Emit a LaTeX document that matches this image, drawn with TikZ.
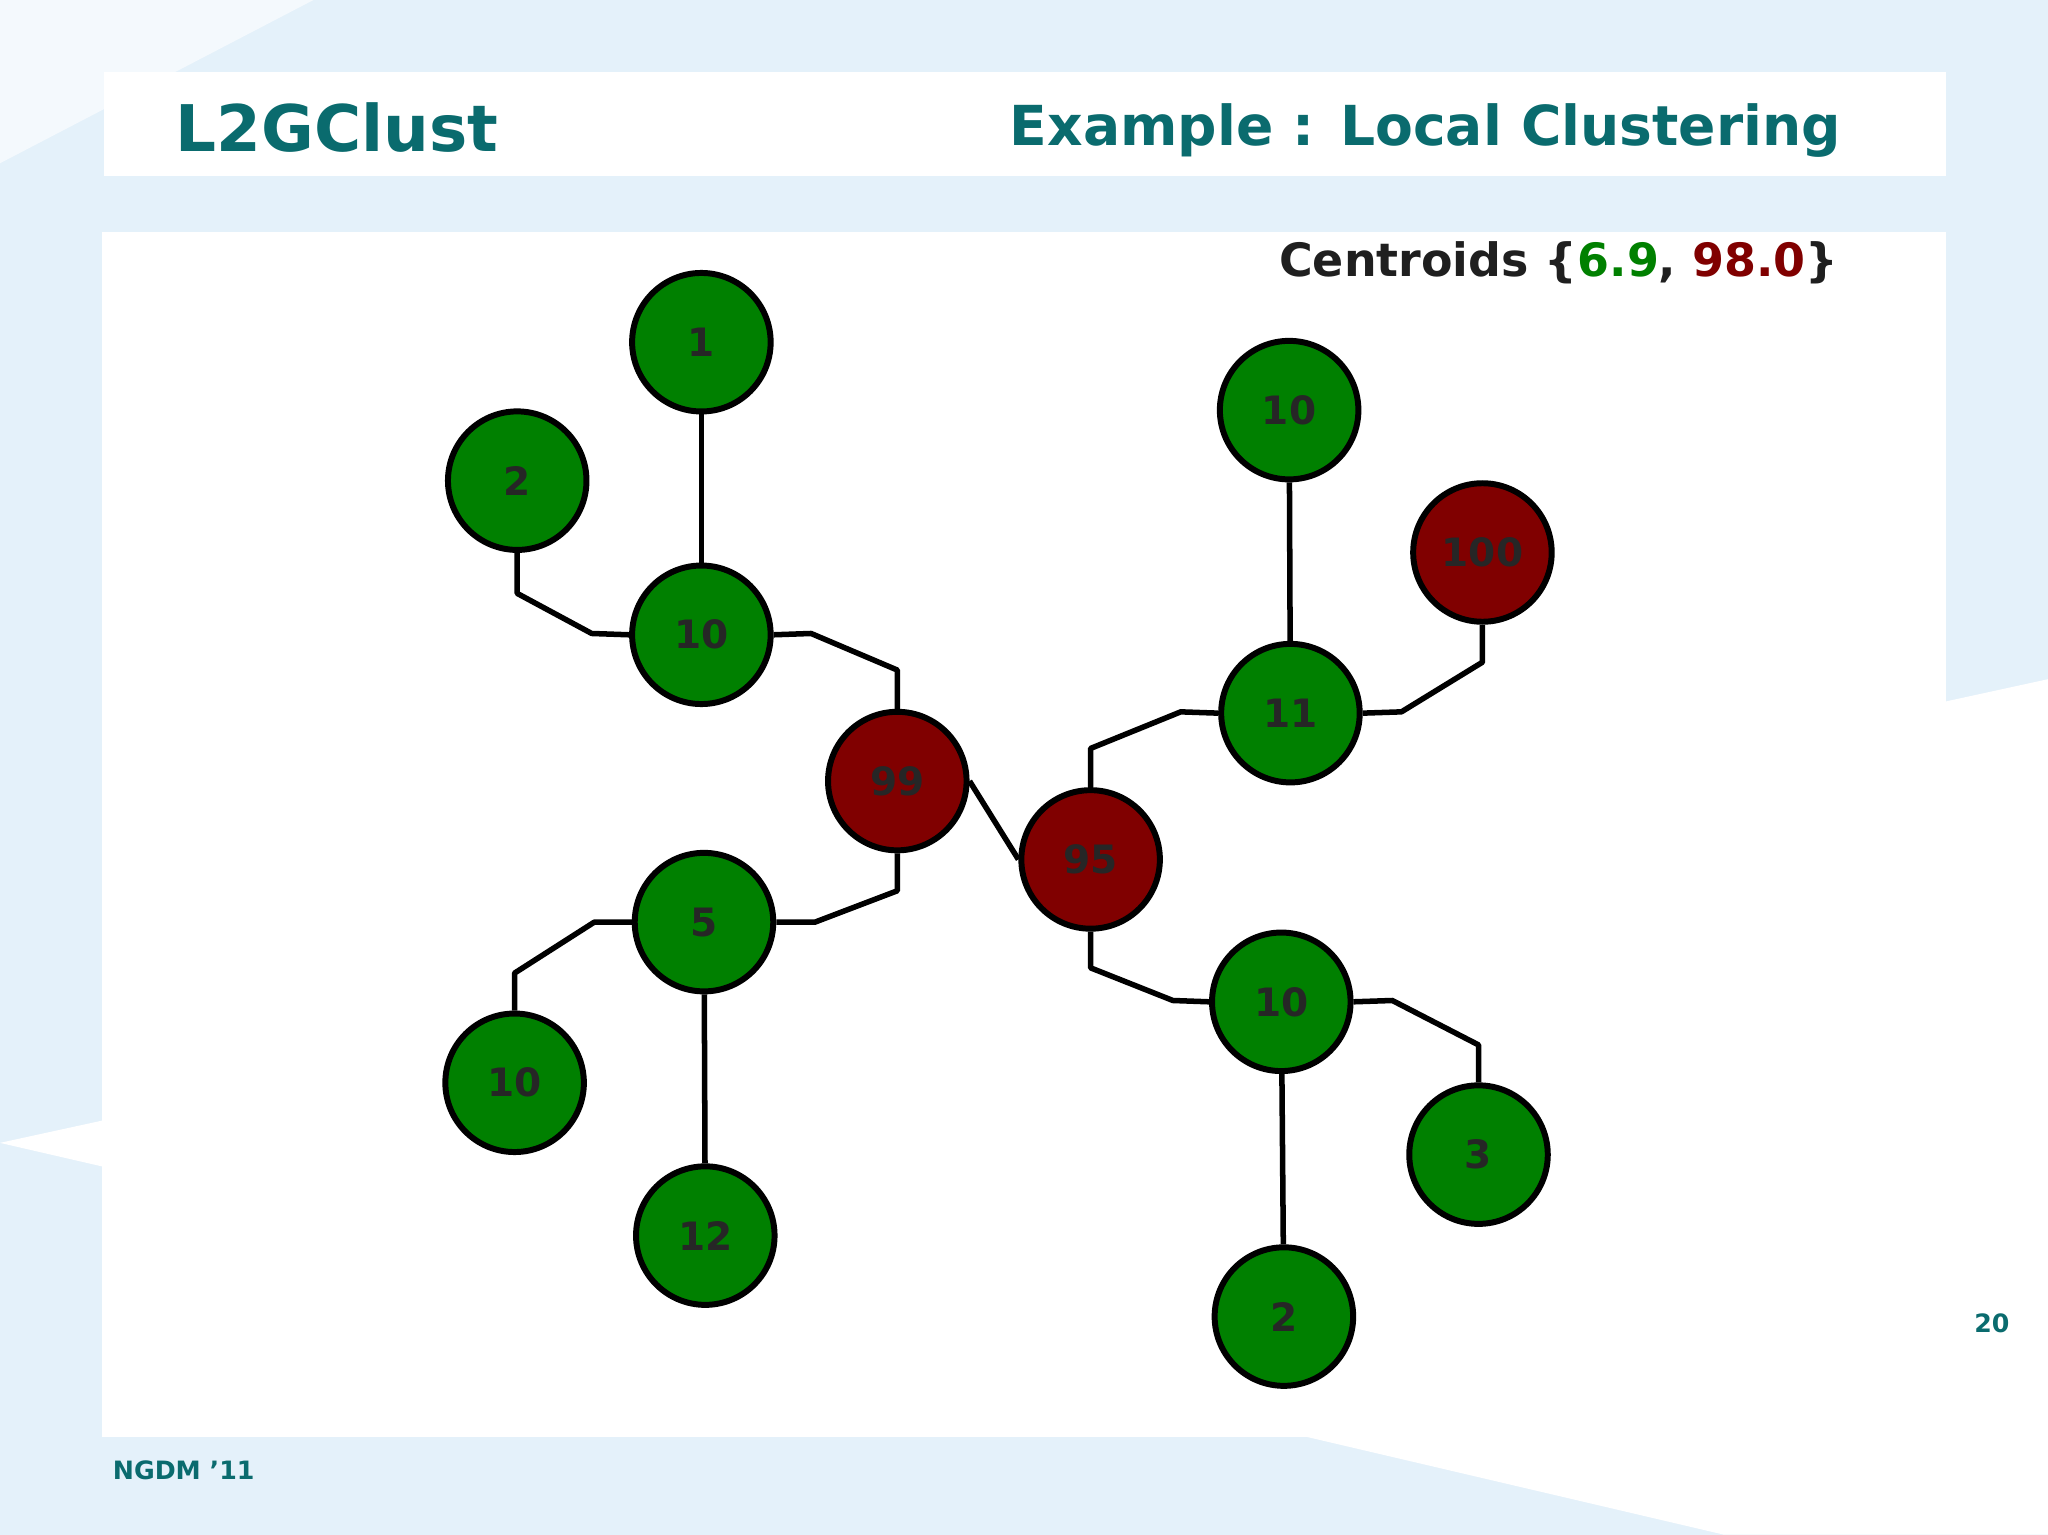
\documentclass[tikz,border=0pt]{standalone}
\usepackage{fontspec}
\setmainfont{DejaVu Sans}
\begin{document}
\begin{tikzpicture}[x=0.01cm,y=-0.01cm,
  nd/.style={circle,draw=black,line width=1.3pt,minimum size=1.06cm,inner sep=0pt,font=\fontsize{8.5}{10}\bfseries,text=black!85},
  gn/.style={nd,fill=green!50!black},
  rn/.style={nd,fill=red!50!black},
  ed/.style={line width=1.2pt,line join=round}]
\definecolor{bgb}{HTML}{E4F1FA}
\definecolor{teal2}{HTML}{0A6B6E}
\fill[bgb] (0,0) rectangle (1568,1175);
\fill[white!60!bgb] (0,125) -- (240,0) -- (0,0) -- cycle;
\fill[white] (1490,537) -- (1568,520) -- (1568,1175) -- (1320,1175) -- (1000,1100) -- (1490,1100) -- cycle;
\fill[white] (0,875) -- (78,858) -- (78,893) -- cycle;
\fill[white] (80,55) rectangle (1490,135);
\fill[white] (78,178) rectangle (1490,1100);
\useasboundingbox (0,0) rectangle (1568,1175);
\node[anchor=west,text=teal2,font=\fontsize{14}{16}\bfseries] (title) at (122,98) {L2GClust};
\node[anchor=east,text=teal2,font=\fontsize{12}{14}\bfseries] (sub) at (1422,100) {Example : Local Clustering};
\node[anchor=east,font=\fontsize{10}{12}\bfseries,text=black!88] (cent) at (1420,201) {Centroids \{\textcolor{green!50!black}{6.9}, \textcolor{red!50!black}{98.0}\}};
\node[anchor=west,text=teal2,font=\fontsize{5.5}{6}\bfseries] (foot) at (74,1126) {NGDM '11};
\node[text=teal2,font=\fontsize{5.5}{6}\bfseries] (pg) at (1525,1013) {20};

\node[gn] (n1) at (537,262) {1};
\node[gn] (n2) at (396,368) {2};
\node[gn] (a10) at (537,486) {10};
\node[rn] (r99) at (687,598) {99};
\node[rn] (r95) at (835,658) {95};
\node[gn] (g5) at (539,706) {5};
\node[gn] (b10) at (394,829) {10};
\node[gn] (g12) at (540,946) {12};
\node[gn] (t10) at (987,314) {10};
\node[rn] (r100) at (1135,423) {100};
\node[gn] (g11) at (988,546) {11};
\node[gn] (c10) at (981,767) {10};
\node[gn] (g3) at (1132,884) {3};
\node[gn] (g2) at (983,1008) {2};

\draw[ed] (n1) -- (a10);
\draw[ed] (n2.south) -- ++(0,31) -- (453,485) -- (a10.west);
\draw[ed] (a10.east) -- (621,485) -- (687,513) -- (r99.north);
\draw[ed] (r99.east) -- (r95.west);
\draw[ed] (r99.south) -- (687,682) -- (624,706) -- (g5.east);
\draw[ed] (g5.west) -- (455,706) -- (394,745) -- (b10.north);
\draw[ed] (g5) -- (g12);
\draw[ed] (r95.north) -- (835,573) -- (904,545) -- (g11.west);
\draw[ed] (g11) -- (t10);
\draw[ed] (g11.east) -- (1073,545) -- (1135,507) -- (r100.south);
\draw[ed] (r95.south) -- (835,741) -- (898,766) -- (c10.west);
\draw[ed] (c10.east) -- (1066,766) -- (1132,800) -- (g3.north);
\draw[ed] (c10) -- (g2);
\end{tikzpicture}
\end{document}
